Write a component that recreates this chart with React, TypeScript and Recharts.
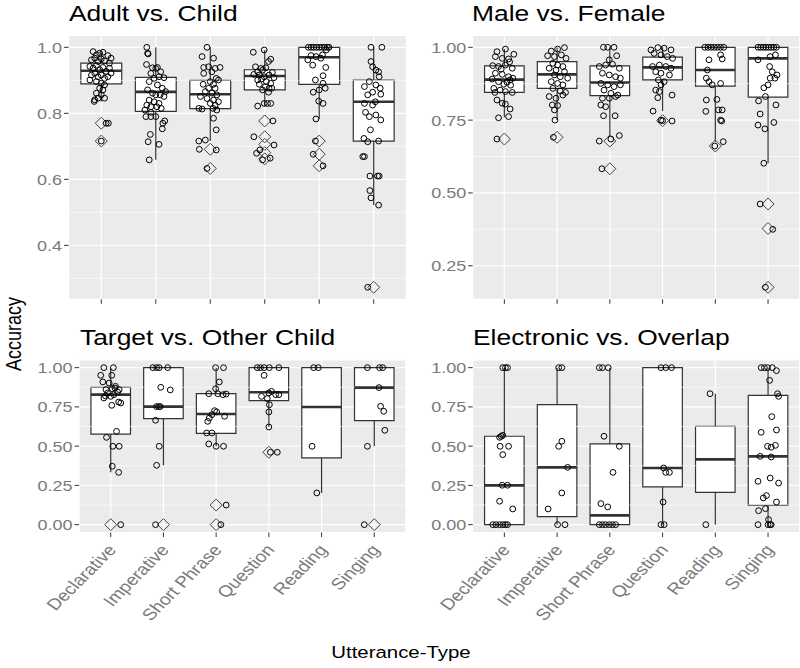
import React from "react";
import { CartesianGrid, ReferenceArea, ReferenceLine, Scatter, ScatterChart, XAxis, YAxis } from "recharts";

const CATEGORIES = ["Declarative", "Imperative", "Short Phrase", "Question", "Reading", "Singing"];

// box stats per category: [lower whisker, Q1, median, Q3, upper whisker]
const ADULT_BOXES = [
  [0.836, 0.889, 0.929, 0.952, 0.987],
  [0.659, 0.806, 0.865, 0.909, 1.0],
  [0.716, 0.814, 0.858, 0.9, 1.0],
  [0.822, 0.871, 0.913, 0.932, 0.992],
  [0.783, 0.888, 0.97, 1.0, 1.0],
  [0.522, 0.716, 0.835, 0.901, 1.0],
];
const ADULT_OUTLIERS = [[0.77, 0.716], [], [0.691, 0.633], [0.777, 0.729, 0.706, 0.681, 0.662], [0.716, 0.676, 0.641], [0.273]];
// jittered points per category: [horizontal jitter, accuracy]
const ADULT_POINTS = [
  [[-0.15, 0.987], [-0.09, 0.977], [-0.03, 0.982], [0.03, 0.985], [0.12, 0.975], [-0.18, 0.962], [-0.12, 0.967], [-0.06, 0.957], [0.0, 0.965], [0.06, 0.959], [0.15, 0.952], [0.18, 0.967], [-0.21, 0.942], [-0.15, 0.937], [-0.09, 0.945], [-0.03, 0.932], [0.03, 0.939], [0.09, 0.927], [0.15, 0.937], [0.18, 0.922], [-0.18, 0.916], [-0.12, 0.921], [-0.06, 0.911], [0.0, 0.916], [0.06, 0.906], [0.12, 0.911], [-0.21, 0.901], [-0.09, 0.896], [0.0, 0.891], [0.06, 0.886], [-0.03, 0.876], [0.03, 0.871], [-0.09, 0.861], [0.0, 0.856], [-0.12, 0.841], [-0.06, 0.846], [0.06, 0.846], [-0.13, 0.836], [0.09, 0.77], [0.13, 0.77], [0.0, 0.716]],
  [[-0.165, 1.0], [-0.15, 0.982], [-0.14, 0.98], [-0.17, 0.948], [-0.06, 0.938], [0.0, 0.936], [0.03, 0.939], [0.09, 0.926], [0.15, 0.908], [-0.09, 0.921], [-0.03, 0.906], [-0.12, 0.896], [0.06, 0.911], [0.03, 0.886], [0.12, 0.876], [0.18, 0.866], [-0.15, 0.871], [-0.06, 0.861], [0.0, 0.856], [0.08, 0.856], [0.15, 0.851], [-0.12, 0.84], [-0.03, 0.835], [0.06, 0.83], [-0.165, 0.825], [-0.09, 0.82], [0.02, 0.82], [0.1, 0.815], [-0.2, 0.81], [-0.09, 0.803], [-0.18, 0.79], [-0.09, 0.79], [0.0, 0.79], [0.165, 0.777], [0.13, 0.77], [0.12, 0.753], [-0.1, 0.736], [-0.14, 0.714], [0.06, 0.706], [-0.12, 0.659]],
  [[-0.06, 1.0], [-0.15, 0.972], [0.06, 0.967], [-0.12, 0.939], [-0.03, 0.941], [0.09, 0.936], [0.18, 0.939], [0.03, 0.926], [-0.12, 0.921], [0.11, 0.906], [0.15, 0.901], [0.0, 0.896], [0.06, 0.888], [-0.13, 0.888], [-0.03, 0.876], [0.09, 0.876], [-0.09, 0.866], [0.03, 0.861], [0.12, 0.856], [-0.18, 0.851], [-0.06, 0.845], [0.06, 0.84], [0.15, 0.835], [0.0, 0.83], [0.09, 0.825], [-0.21, 0.815], [-0.15, 0.813], [0.05, 0.815], [0.12, 0.81], [0.06, 0.785], [0.11, 0.75], [-0.21, 0.716], [-0.09, 0.719], [-0.2, 0.691], [0.11, 0.689], [-0.06, 0.633]],
  [[-0.21, 0.985], [-0.01, 0.992], [0.11, 0.964], [0.07, 0.957], [-0.17, 0.941], [-0.07, 0.936], [0.02, 0.938], [-0.13, 0.926], [-0.04, 0.931], [0.14, 0.924], [-0.2, 0.918], [-0.1, 0.916], [-0.01, 0.911], [0.08, 0.916], [0.17, 0.908], [-0.13, 0.901], [-0.06, 0.904], [0.03, 0.896], [0.11, 0.891], [-0.1, 0.888], [0.01, 0.881], [0.08, 0.876], [0.13, 0.876], [-0.04, 0.871], [0.07, 0.864], [-0.13, 0.822], [-0.01, 0.83], [0.05, 0.83], [0.11, 0.83], [0.15, 0.777], [-0.2, 0.729], [0.17, 0.704], [-0.15, 0.679], [-0.09, 0.689], [0.1, 0.664], [-0.04, 0.659]],
  [[-0.2, 1.0], [-0.15, 1.0], [-0.1, 1.0], [-0.05, 1.0], [0.0, 1.0], [0.05, 1.0], [0.1, 1.0], [0.15, 1.0], [0.18, 1.0], [-0.15, 0.975], [-0.06, 0.972], [0.06, 0.977], [0.13, 0.992], [-0.21, 0.962], [-0.12, 0.946], [0.03, 0.967], [0.12, 0.939], [-0.07, 0.901], [0.07, 0.914], [0.07, 0.891], [0.0, 0.871], [-0.11, 0.864], [0.11, 0.876], [-0.01, 0.837], [0.07, 0.83], [-0.06, 0.783], [-0.07, 0.716], [-0.11, 0.676], [0.07, 0.641]],
  [[-0.05, 1.0], [0.15, 1.0], [-0.05, 0.957], [-0.02, 0.941], [0.04, 0.931], [0.09, 0.926], [0.1, 0.911], [-0.08, 0.896], [-0.17, 0.881], [0.04, 0.886], [0.12, 0.876], [-0.02, 0.864], [-0.11, 0.856], [0.13, 0.858], [0.03, 0.835], [-0.17, 0.83], [-0.02, 0.825], [-0.15, 0.803], [0.04, 0.795], [-0.08, 0.79], [0.13, 0.78], [-0.06, 0.75], [-0.18, 0.724], [-0.11, 0.714], [0.09, 0.716], [-0.2, 0.669], [-0.17, 0.669], [-0.07, 0.61], [0.07, 0.61], [0.1, 0.61], [-0.07, 0.566], [-0.05, 0.544], [0.09, 0.522], [-0.11, 0.273]],
];

const MALE_BOXES = [
  [0.76, 0.845, 0.889, 0.936, 0.994],
  [0.75, 0.859, 0.907, 0.951, 0.999],
  [0.693, 0.834, 0.879, 0.936, 1.0],
  [0.781, 0.888, 0.931, 0.966, 1.0],
  [0.676, 0.867, 0.922, 1.0, 1.0],
  [0.602, 0.829, 0.962, 1.0, 1.0],
];
const MALE_OUTLIERS = [[0.685], [0.691], [0.678, 0.583], [0.748], [0.661], [0.462, 0.378, 0.176]];
const MALE_POINTS = [
  [[-0.14, 0.985], [0.02, 0.994], [0.18, 0.976], [-0.17, 0.968], [-0.04, 0.962], [0.08, 0.96], [-0.22, 0.937], [-0.11, 0.934], [0.02, 0.939], [0.15, 0.928], [-0.17, 0.911], [-0.04, 0.907], [0.08, 0.899], [0.16, 0.894], [-0.23, 0.891], [-0.11, 0.882], [-0.01, 0.873], [0.11, 0.888], [-0.2, 0.859], [-0.08, 0.853], [0.02, 0.848], [0.15, 0.845], [-0.14, 0.819], [-0.04, 0.808], [0.02, 0.805], [0.11, 0.788], [-0.11, 0.758], [0.08, 0.762], [-0.14, 0.685], [0.05, 0.88], [0.12, 0.87], [-0.06, 0.925], [0.1, 0.95], [-0.18, 0.845]],
  [[-0.11, 0.987], [0.01, 0.994], [0.14, 0.999], [-0.18, 0.971], [-0.05, 0.968], [0.08, 0.974], [0.17, 0.962], [-0.08, 0.945], [0.01, 0.939], [0.11, 0.934], [-0.15, 0.928], [-0.02, 0.922], [0.14, 0.916], [-0.05, 0.905], [0.06, 0.899], [0.2, 0.894], [-0.11, 0.882], [0.01, 0.876], [0.11, 0.871], [-0.08, 0.859], [0.06, 0.85], [0.16, 0.845], [-0.15, 0.831], [-0.02, 0.825], [0.11, 0.836], [-0.09, 0.802], [0.01, 0.8], [-0.05, 0.785], [-0.04, 0.75], [-0.07, 0.691]],
  [[-0.12, 1.0], [-0.04, 1.0], [0.08, 1.0], [0.13, 0.971], [-0.01, 0.957], [-0.2, 0.934], [-0.08, 0.939], [0.05, 0.942], [0.18, 0.928], [-0.14, 0.911], [-0.01, 0.905], [0.11, 0.899], [0.2, 0.894], [-0.17, 0.876], [-0.04, 0.871], [0.08, 0.865], [0.2, 0.871], [-0.11, 0.853], [0.02, 0.842], [0.15, 0.836], [-0.14, 0.825], [-0.01, 0.825], [0.11, 0.831], [-0.17, 0.802], [-0.08, 0.796], [-0.12, 0.765], [0.1, 0.765], [-0.2, 0.678], [0.02, 0.685], [0.18, 0.697], [-0.15, 0.583]],
  [[-0.22, 0.991], [-0.09, 0.999], [0.03, 0.997], [0.16, 0.991], [-0.16, 0.979], [-0.03, 0.974], [0.09, 0.968], [0.19, 0.962], [-0.19, 0.934], [-0.06, 0.939], [0.06, 0.934], [0.16, 0.928], [-0.13, 0.916], [-0.03, 0.911], [0.13, 0.905], [-0.08, 0.888], [0.03, 0.882], [-0.03, 0.871], [-0.13, 0.853], [-0.06, 0.848], [-0.09, 0.827], [0.18, 0.836], [-0.18, 0.781], [-0.03, 0.75], [0.18, 0.747], [0.0, 0.748]],
  [[-0.2, 1.0], [-0.14, 1.0], [-0.08, 1.0], [-0.02, 1.0], [0.04, 1.0], [0.1, 1.0], [0.16, 1.0], [-0.12, 0.957], [0.1, 0.974], [0.13, 0.96], [-0.15, 0.922], [-0.17, 0.894], [-0.12, 0.882], [-0.06, 0.871], [0.1, 0.876], [-0.17, 0.819], [0.03, 0.821], [0.06, 0.785], [0.13, 0.785], [0.1, 0.75], [0.12, 0.747], [-0.18, 0.78], [0.15, 0.676], [-0.01, 0.661]],
  [[-0.19, 1.0], [-0.14, 1.0], [-0.09, 1.0], [-0.04, 1.0], [0.01, 1.0], [0.06, 1.0], [0.11, 1.0], [0.16, 1.0], [-0.19, 0.957], [0.04, 0.968], [0.14, 0.974], [0.03, 0.934], [0.08, 0.916], [0.17, 0.905], [0.13, 0.894], [0.04, 0.894], [-0.08, 0.861], [0.0, 0.871], [-0.05, 0.831], [-0.18, 0.816], [0.15, 0.802], [-0.15, 0.771], [-0.19, 0.733], [-0.06, 0.72], [0.11, 0.742], [-0.08, 0.602], [-0.15, 0.462], [0.09, 0.375], [-0.05, 0.176]],
];

const TARGET_BOXES = [
  [0.333, 0.577, 0.828, 0.875, 1.0],
  [0.378, 0.675, 0.752, 1.0, 1.0],
  [0.499, 0.582, 0.705, 0.834, 1.0],
  [0.622, 0.79, 0.843, 1.0, 1.0],
  [0.202, 0.425, 0.749, 1.0, 1.0],
  [0.499, 0.662, 0.873, 1.0, 1.0],
];
const TARGET_OUTLIERS = [[0], [0], [0.125, 0], [0.461], [], [0]];
const TARGET_POINTS = [
  [[-0.13, 1.0], [0.05, 1.0], [-0.19, 0.951], [0.02, 0.951], [-0.15, 0.909], [-0.03, 0.902], [0.09, 0.881], [-0.09, 0.86], [0.03, 0.866], [0.16, 0.86], [-0.06, 0.839], [0.13, 0.845], [-0.13, 0.807], [0.0, 0.817], [0.06, 0.828], [0.15, 0.781], [0.19, 0.775], [0.02, 0.76], [-0.1, 0.82], [0.08, 0.87], [0.11, 0.594], [-0.08, 0.556], [0.04, 0.499], [0.16, 0.499], [0.03, 0.372], [0.15, 0.333], [0.19, 0.0]],
  [[-0.2, 1.0], [-0.13, 1.0], [-0.08, 1.0], [0.08, 1.0], [-0.05, 0.875], [0.13, 0.858], [-0.13, 0.752], [-0.09, 0.752], [-0.06, 0.752], [-0.15, 0.665], [-0.08, 0.499], [-0.13, 0.378], [-0.15, 0.0]],
  [[-0.01, 1.0], [0.14, 1.0], [0.06, 0.909], [-0.01, 0.866], [-0.14, 0.834], [0.03, 0.834], [0.13, 0.828], [0.19, 0.832], [-0.03, 0.726], [0.01, 0.718], [-0.08, 0.701], [0.16, 0.69], [-0.13, 0.679], [-0.16, 0.658], [-0.18, 0.584], [-0.08, 0.584], [-0.14, 0.514], [0.0, 0.499], [0.14, 0.499], [0.19, 0.125], [0.09, 0.0]],
  [[-0.22, 1.0], [-0.16, 1.0], [-0.09, 1.0], [0.01, 1.0], [0.19, 1.0], [-0.09, 0.951], [0.05, 0.849], [0.0, 0.839], [-0.14, 0.817], [0.13, 0.828], [0.19, 0.828], [-0.03, 0.803], [0.01, 0.764], [0.0, 0.718], [0.0, 0.622], [0.03, 0.461], [0.16, 0.461]],
  [[-0.15, 1.0], [-0.06, 1.0], [-0.18, 0.499], [-0.09, 0.202]],
  [[-0.13, 1.0], [0.1, 1.0], [0.16, 1.0], [0.09, 0.873], [0.12, 0.754], [0.18, 0.722], [0.2, 0.601], [-0.13, 0.499], [-0.19, 0.0]],
];

const ELECTRONIC_BOXES = [
  [0, 0, 0.25, 0.563, 1.0],
  [0, 0.051, 0.365, 0.764, 1.0],
  [0, 0, 0.059, 0.514, 1.0],
  [0, 0.24, 0.361, 1.0, 1.0],
  [0, 0.206, 0.416, 0.626, 0.834],
  [0, 0.123, 0.435, 0.824, 1.0],
];
const ELECTRONIC_OUTLIERS = [[], [], [], [], [], []];
const ELECTRONIC_POINTS = [
  [[-0.03, 1.0], [0.02, 1.0], [0.06, 1.0], [-0.09, 0.556], [-0.06, 0.563], [-0.03, 0.569], [-0.08, 0.499], [0.08, 0.499], [-0.03, 0.446], [-0.04, 0.251], [0.06, 0.251], [-0.09, 0.149], [0.16, 0.1], [-0.22, 0.0], [-0.16, 0.0], [-0.09, 0.0], [-0.03, 0.0], [0.02, 0.0], [0.06, 0.0]],
  [[0.03, 1.0], [0.09, 1.0], [0.09, 0.531], [0.03, 0.499], [0.2, 0.365], [0.09, 0.202], [-0.17, 0.1], [0.01, 0.0], [0.15, 0.0]],
  [[-0.2, 1.0], [-0.14, 1.0], [-0.03, 1.0], [-0.11, 0.563], [0.18, 0.499], [0.06, 0.333], [-0.17, 0.134], [-0.04, 0.113], [-0.2, 0.0], [-0.14, 0.0], [-0.08, 0.0], [-0.01, 0.0], [0.05, 0.0], [0.11, 0.0]],
  [[-0.03, 1.0], [0.06, 1.0], [0.17, 1.0], [0.02, 0.361], [0.06, 0.333], [0.13, 0.333], [0.01, 0.144], [-0.03, 0.0], [0.03, 0.0]],
  [[-0.1, 0.834], [-0.18, 0.0]],
  [[-0.13, 1.0], [-0.07, 1.0], [-0.01, 1.0], [0.08, 1.0], [0.16, 0.981], [0.03, 0.919], [0.18, 0.834], [0.2, 0.817], [0.07, 0.688], [-0.13, 0.588], [0.16, 0.603], [-0.01, 0.499], [0.06, 0.493], [0.14, 0.505], [-0.15, 0.435], [0.06, 0.431], [0.04, 0.297], [0.2, 0.265], [-0.19, 0.276], [-0.09, 0.17], [-0.03, 0.185], [0.16, 0.144], [-0.18, 0.089], [-0.05, 0.102], [0.01, 0.032], [-0.19, 0.0], [0.0, 0.0], [0.04, 0.0], [0.06, 0.0]],
];

const ADULT_TICKS = [0.4, 0.6, 0.8, 1.0];
const ADULT_MINOR = [0.3, 0.5, 0.7, 0.9];
const MALE_TICKS = [0.25, 0.5, 0.75, 1.0];
const MALE_MINOR = [0.375, 0.625, 0.875];
const BOTTOM_TICKS = [0, 0.25, 0.5, 0.75, 1.0];
const BOTTOM_MINOR = [0.125, 0.375, 0.625, 0.875];

const FONT = '"Liberation Sans", Arial, Helvetica, sans-serif';
const SX = 1.2; // reference image is stretched horizontally
const BOX_HALF = 0.375;
const YW = 40;
const XH = 30;

const PANELS = [
  { title: "Adult vs. Child", boxes: ADULT_BOXES, outliers: ADULT_OUTLIERS, points: ADULT_POINTS, ticks: ADULT_TICKS, minor: ADULT_MINOR, domain: [0.2366, 1.0364], digits: 1, plot: { x: 68.6, y: 35.3, w: 337.8, h: 264 }, labels: false },
  { title: "Male vs. Female", boxes: MALE_BOXES, outliers: MALE_OUTLIERS, points: MALE_POINTS, ticks: MALE_TICKS, minor: MALE_MINOR, domain: [0.1348, 1.0412], digits: 2, plot: { x: 472.7, y: 35.3, w: 327, h: 264 }, labels: false },
  { title: "Target vs. Other Child", boxes: TARGET_BOXES, outliers: TARGET_OUTLIERS, points: TARGET_POINTS, ticks: BOTTOM_TICKS, minor: BOTTOM_MINOR, domain: [-0.05, 1.05], digits: 2, plot: { x: 79.1, y: 359.8, w: 326.8, h: 172.7 }, labels: true },
  { title: "Electronic vs. Overlap", boxes: ELECTRONIC_BOXES, outliers: ELECTRONIC_OUTLIERS, points: ELECTRONIC_POINTS, ticks: BOTTOM_TICKS, minor: BOTTOM_MINOR, domain: [-0.05, 1.05], digits: 2, plot: { x: 472.7, y: 359.8, w: 327, h: 172.7 }, labels: true },
];

const OpenCircle = (props: any) => (
  <circle cx={props.cx} cy={props.cy} r={2.9} fill="none" stroke="#000" strokeWidth={1} />
);

const OpenDiamond = (props: any) => {
  const { cx, cy } = props;
  const d = 6;
  return <path d={`M${cx},${cy - d}L${cx + d},${cy}L${cx},${cy + d}L${cx - d},${cy}Z`} fill="none" stroke="#444" strokeWidth={1} />;
};

function Facet({ panel }: { panel: any }) {
  const { x, y, w, h } = panel.plot;
  const jitter = panel.points.flatMap((list: number[][], i: number) => list.map(([dx, v]) => ({ x: i + 1 + dx, y: v })));
  const outl = panel.outliers.flatMap((list: number[], i: number) => list.map((v) => ({ x: i + 1, y: v })));

  const yTick = (p: any) => (
    <text transform={`translate(${p.x},${p.y}) scale(${SX},1)`} textAnchor="end" dy="0.36em" fontSize={15} fill="#7a7a7a" fontFamily={FONT}>
      {Number(p.payload.value).toFixed(panel.digits)}
    </text>
  );
  const xTick = (p: any) =>
    panel.labels ? (
      <text transform={`translate(${p.x - 4},${p.y + 4}) scale(${SX},1) rotate(-50)`} textAnchor="end" dy="0.71em" fontSize={16} fill="#7a7a7a" fontFamily={FONT}>
        {CATEGORIES[p.payload.value - 1]}
      </text>
    ) : (
      <g />
    );

  return (
    <div style={{ position: "absolute", left: 0, top: 0 }}>
      <ScatterChart width={800} height={668} margin={{ top: y, left: x - YW, right: 800 - x - w, bottom: 668 - y - h - XH }}>
        <CartesianGrid fill="#EBEBEB" stroke="#FFFFFF" strokeWidth={1.2} />
        {panel.minor.map((v: number) => (
          <ReferenceLine key={`m${v}`} y={v} stroke="#FFFFFF" strokeWidth={0.6} />
        ))}
        <XAxis type="number" dataKey="x" domain={[0.4, 6.6]} ticks={[1, 2, 3, 4, 5, 6]} interval={0} allowDataOverflow height={XH} axisLine={false} tickLine={{ stroke: "#333", strokeWidth: 1 }} tickSize={4.5} tick={xTick} />
        <YAxis type="number" dataKey="y" domain={panel.domain} ticks={panel.ticks} interval={0} allowDataOverflow width={YW} axisLine={false} tickLine={{ stroke: "#333", strokeWidth: 1 }} tickSize={4.5} tickMargin={2} tick={yTick} />
        {panel.boxes.map((b: number[], i: number) => (
          <ReferenceLine key={`wu${i}`} segment={[{ x: i + 1, y: b[3] }, { x: i + 1, y: b[4] }]} stroke="#333" strokeWidth={1.2} />
        ))}
        {panel.boxes.map((b: number[], i: number) => (
          <ReferenceLine key={`wl${i}`} segment={[{ x: i + 1, y: b[0] }, { x: i + 1, y: b[1] }]} stroke="#333" strokeWidth={1.2} />
        ))}
        {panel.boxes.map((b: number[], i: number) => (
          <ReferenceArea key={`b${i}`} x1={i + 1 - BOX_HALF} x2={i + 1 + BOX_HALF} y1={b[1]} y2={b[3]} fill="#FFFFFF" fillOpacity={1} stroke="#333" strokeWidth={1.2} />
        ))}
        {panel.boxes.map((b: number[], i: number) => (
          <ReferenceLine key={`md${i}`} segment={[{ x: i + 1 - BOX_HALF, y: b[2] }, { x: i + 1 + BOX_HALF, y: b[2] }]} stroke="#333" strokeWidth={2.6} />
        ))}
        <Scatter data={outl} shape={OpenDiamond} isAnimationActive={false} />
        <Scatter data={jitter} shape={OpenCircle} isAnimationActive={false} />
      </ScatterChart>
    </div>
  );
}

const TITLE_POS = [
  { x: 69, y: 21 },
  { x: 472, y: 21 },
  { x: 80, y: 345 },
  { x: 473, y: 345 },
];

export default function App() {
  return (
    <div style={{ position: "absolute", left: 0, top: 0, width: 800, height: 668, background: "#fff", overflow: "hidden" }}>
      {PANELS.map((p, i) => (
        <Facet key={i} panel={p} />
      ))}
      <svg width={800} height={668} style={{ position: "absolute", left: 0, top: 0, pointerEvents: "none" }}>
        {PANELS.map((p, i) => (
          <text key={i} transform={`translate(${TITLE_POS[i].x},${TITLE_POS[i].y}) scale(${SX},1)`} fontSize={22} fill="#000" fontFamily={FONT}>
            {p.title}
          </text>
        ))}
        <text transform={`translate(13,334) scale(${SX},1) rotate(-90)`} textAnchor="middle" dy="0.35em" fontSize={18} fill="#000" fontFamily={FONT}>
          Accuracy
        </text>
        <text transform={`translate(401,658) scale(${SX},1)`} textAnchor="middle" fontSize={17} fill="#000" fontFamily={FONT}>
          Utterance-Type
        </text>
      </svg>
    </div>
  );
}
